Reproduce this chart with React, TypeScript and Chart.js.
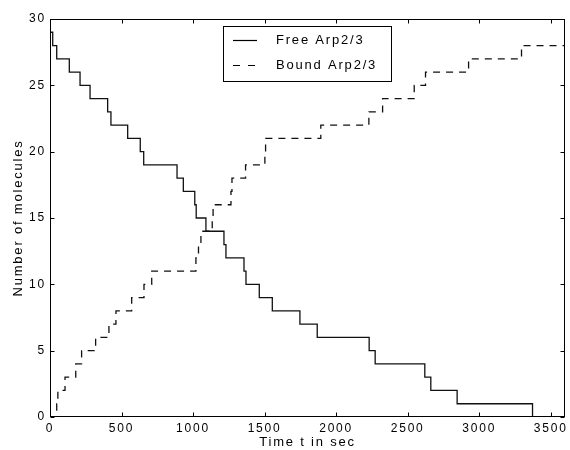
import React, { useEffect, useRef } from "react";
import { Chart, registerables } from "chart.js";

Chart.register(...registerables);

const FONT = '"Liberation Sans", Arial, sans-serif';

const freeTimes = [0, 19, 47, 135, 210, 280, 403, 426, 543, 631, 655, 888, 932, 1012, 1022, 1090, 1216, 1230, 1356, 1370, 1463, 1554, 1747, 1868, 2231, 2273, 2620, 2662, 2846, 3373];
const freeCounts = [29, 28, 27, 26, 25, 24, 23, 22, 21, 20, 19, 18, 17, 16, 15, 14, 13, 12, 11, 10, 9, 8, 7, 6, 5, 4, 3, 2, 1, 0];

const boundTimes = [0, 47, 55, 105, 180, 221, 319, 412, 461, 571, 657, 711, 1020, 1038, 1055, 1134, 1140, 1265, 1272, 1367, 1502, 1507, 1893, 2229, 2325, 2546, 2625, 2926, 3296];
const boundCounts = [0, 1, 2, 3, 4, 5, 6, 7, 8, 9, 10, 11, 12, 13, 14, 15, 16, 17, 18, 19, 20, 21, 22, 23, 24, 25, 26, 27, 28];

const xTickValues = [0, 500, 1000, 1500, 2000, 2500, 3000, 3500];
const yTickValues = [0, 5, 10, 15, 20, 25, 30];

const tEnd = 3600;
const seriesNames = ["Free Arp2/3", "Bound Arp2/3"];
const xTitle = "Time t in sec";
const yTitle = "Number of molecules";

function toPoints(ts: number[], vs: number[]) {
  const pts = ts.map((t, i) => ({ x: t, y: vs[i] }));
  pts.push({ x: tEnd, y: vs[vs.length - 1] });
  return pts;
}

const DASH = [7, 6];
const SPACING = "1.8px";

const framePlugin = {
  id: "frame",
  beforeDraw(chart: any) {
    chart.ctx.letterSpacing = SPACING;
  },
  afterDraw(chart: any) {
    const ctx = chart.ctx;
    const a = chart.chartArea;
    const xs = chart.scales.x;
    const ys = chart.scales.y;
    ctx.save();
    ctx.strokeStyle = "#000";
    ctx.lineWidth = 1;
    ctx.setLineDash([]);
    const L = Math.round(a.left) + 0.5;
    const R = Math.round(a.right) - 0.5;
    const T = Math.round(a.top) + 0.5;
    const B = Math.round(a.bottom) - 0.5;
    ctx.strokeRect(L, T, R - L, B - T);
    const tl = 4;
    ctx.beginPath();
    xs.ticks.forEach((tk: any) => {
      const px = Math.round(xs.getPixelForValue(tk.value)) + 0.5;
      ctx.moveTo(px, B);
      ctx.lineTo(px, B - tl);
      ctx.moveTo(px, T);
      ctx.lineTo(px, T + tl);
    });
    ys.ticks.forEach((tk: any) => {
      const py = Math.round(ys.getPixelForValue(tk.value)) + 0.5;
      ctx.moveTo(L, py);
      ctx.lineTo(L + tl, py);
      ctx.moveTo(R, py);
      ctx.lineTo(R - tl, py);
    });
    ctx.stroke();

    // legend
    const bx = 223.5, by = 26.5, bw = 168, bh = 55;
    ctx.fillStyle = "#fff";
    ctx.fillRect(bx, by, bw, bh);
    ctx.strokeRect(bx, by, bw, bh);
    const rows = [40.5, 65.5];
    ctx.lineWidth = 1.2;
    rows.forEach((ry, i) => {
      ctx.setLineDash(i === 0 ? [] : [7, 8]);
      ctx.beginPath();
      ctx.moveTo(233, ry);
      ctx.lineTo(257, ry);
      ctx.stroke();
    });
    ctx.setLineDash([]);
    ctx.fillStyle = "#000";
    ctx.font = `13px ${FONT}`;
    ctx.textAlign = "left";
    ctx.textBaseline = "middle";
    ctx.letterSpacing = SPACING;
    rows.forEach((ry, i) => {
      ctx.fillText(seriesNames[i], 276, ry);
    });
    ctx.restore();
  },
};

export default function App() {
  const ref = useRef<HTMLCanvasElement | null>(null);
  useEffect(() => {
    document.body.style.margin = "0";
    const canvas = ref.current!;
    const chart = new Chart(canvas, {
      type: "line",
      data: {
        datasets: [
          {
            label: seriesNames[0],
            data: toPoints(freeTimes, freeCounts),
            borderColor: "#111",
            borderWidth: 1.3,
            stepped: "before",
            pointRadius: 0,
            fill: false,
          },
          {
            label: seriesNames[1],
            data: toPoints(boundTimes, boundCounts),
            borderColor: "#111",
            borderWidth: 1.3,
            borderDash: DASH,
            stepped: "before",
            pointRadius: 0,
            fill: false,
          },
        ],
      },
      options: {
        animation: false,
        responsive: false,
        maintainAspectRatio: false,
        devicePixelRatio: 1,
        layout: { padding: { left: 0, right: 5, top: 19, bottom: 0 } },
        plugins: {
          legend: { display: false },
          tooltip: { enabled: false },
        },
        scales: {
          x: {
            type: "linear",
            min: 0,
            max: tEnd,
            grid: { display: false, drawTicks: false },
            border: { display: false },
            afterBuildTicks(scale: any) {
              scale.ticks = xTickValues.map((v) => ({ value: v }));
            },
            ticks: {
              autoSkip: false,
              color: "#000",
              font: { family: FONT, size: 12 },
              padding: 4,
              maxRotation: 0,
              callback: (v: any) => String(v),
            },
            title: {
              display: true,
              text: xTitle,
              color: "#000",
              font: { family: FONT, size: 13 },
              padding: { top: 0, bottom: 0 },
            },
            afterFit(scale: any) {
              scale.height = 33;
            },
          },
          y: {
            type: "linear",
            min: 0,
            max: 30,
            grid: { display: false, drawTicks: false },
            border: { display: false },
            afterBuildTicks(scale: any) {
              scale.ticks = yTickValues.map((v) => ({ value: v }));
            },
            ticks: {
              autoSkip: false,
              color: "#000",
              font: { family: FONT, size: 12 },
              padding: 4,
              callback: (v: any) => String(v),
            },
            title: {
              display: true,
              text: yTitle,
              color: "#000",
              font: { family: FONT, size: 13 },
              padding: { top: 11, bottom: 0 },
            },
            afterFit(scale: any) {
              scale.width = 50;
            },
          },
        },
      },
      plugins: [framePlugin],
    });
    return () => chart.destroy();
  }, []);
  return (
    <div style={{ position: "absolute", left: 0, top: 0, width: 570, height: 450, background: "#fff" }}>
      <canvas ref={ref} width={570} height={450} style={{ width: 570, height: 450, display: "block" }} />
    </div>
  );
}
